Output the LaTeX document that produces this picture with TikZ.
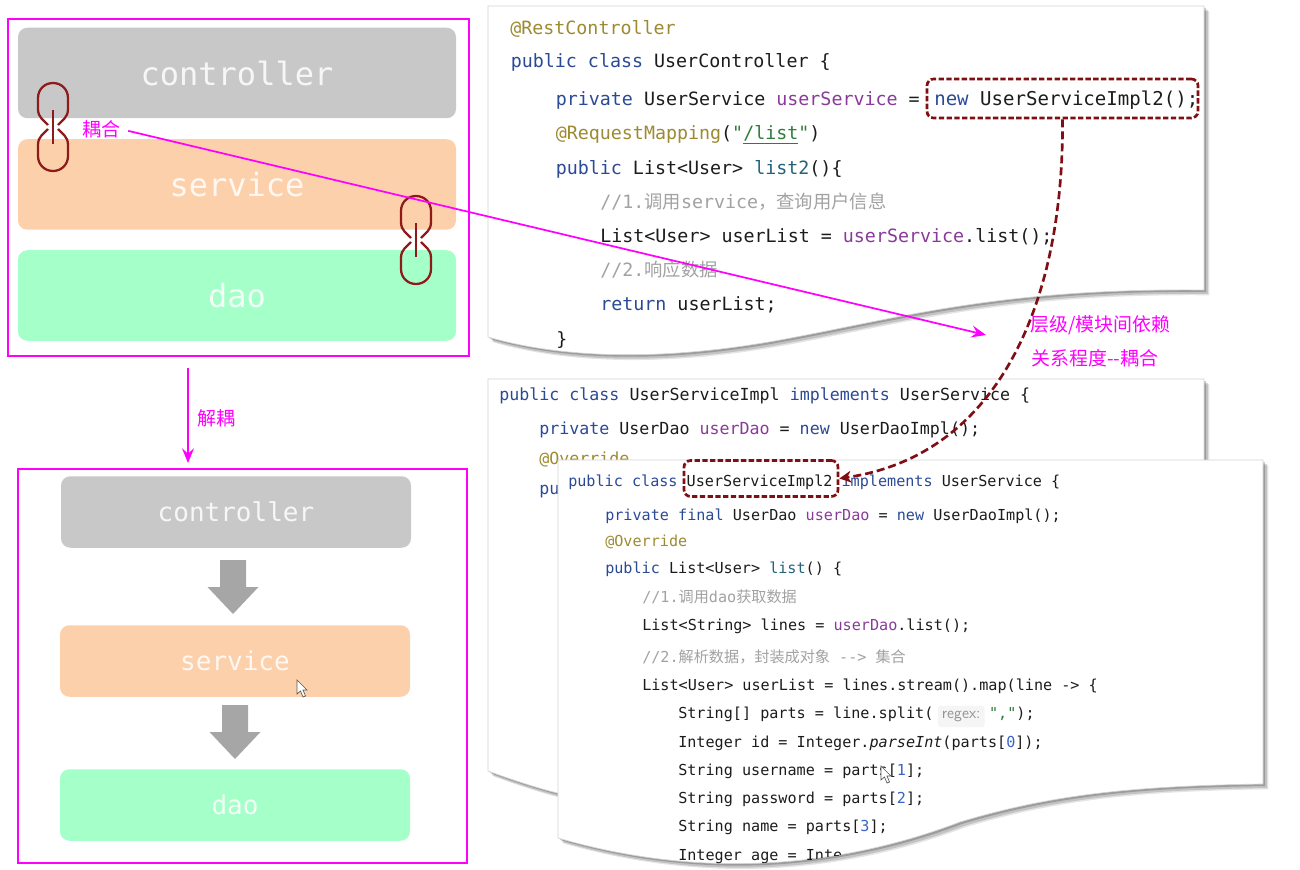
\documentclass[tikz,border=0pt]{standalone}
\usepackage{fontspec}
\usetikzlibrary{arrows.meta,positioning,shadows}
\newfontfamily\codefont{DejaVu Sans Mono}
\newfontfamily\cjk{Noto Sans CJK SC}
\definecolor{ctlgray}{HTML}{C8C8C8}
\definecolor{svcpeach}{HTML}{FCD0AA}
\definecolor{daogreen}{HTML}{A4FFC9}
\definecolor{blockgray}{HTML}{A6A6A6}
\definecolor{linkred}{HTML}{8E1A1A}
\definecolor{depred}{HTML}{7F0F14}
\definecolor{notemag}{HTML}{FF00FF}
\definecolor{kwcol}{HTML}{2B4A96}
\definecolor{fldcol}{HTML}{8A3A9A}
\definecolor{mthcol}{HTML}{22637A}
\definecolor{anncol}{HTML}{9E8A30}
\definecolor{strcol}{HTML}{2F7D3A}
\definecolor{numcol}{HTML}{3A62C8}
\definecolor{cmtcol}{HTML}{A2A2A2}
\definecolor{txtcol}{HTML}{1C1C1C}
\newcommand{\px}{0.75pt}
\newcommand{\kwd}[1]{\textcolor{kwcol}{#1}}
\newcommand{\fld}[1]{\textcolor{fldcol}{#1}}
\newcommand{\mth}[1]{\textcolor{mthcol}{#1}}
\newcommand{\anno}[1]{\textcolor{anncol}{#1}}
\newcommand{\strg}[1]{\textcolor{strcol}{#1}}
\newcommand{\numb}[1]{\textcolor{numcol}{#1}}
\newcommand{\cmt}[1]{\textcolor{cmtcol}{#1}}
\newcommand{\pageA}{(488,6) -- (1204,6) -- (1204,290) .. controls (1000,288) and (900,318) .. (780,340) .. controls (660,362) and (560,358) .. (488,337) -- cycle}
\newcommand{\pageB}{(488,379) -- (1204,379) -- (1204,700) .. controls (1000,700) and (800,800) .. (650,805) .. controls (590,805) and (540,790) .. (488,771) -- cycle}
\newcommand{\pageC}{(558,460) -- (1263,460) -- (1263,784) .. controls (1130,786) and (1050,795) .. (960,822) .. controls (860,860) and (720,885) .. (558,838) -- cycle}
\begin{document}
\begin{tikzpicture}[
    x=0.75pt, y=-0.75pt,
    panel/.style={draw=notemag, line width=1.2pt, inner sep=0pt},
    layer/.style={rounded corners=7pt, inner sep=0pt, text=white, text opacity=0.85},
    layerbig/.style={layer, minimum width=438*\px, minimum height=90.5*\px,
      font=\codefont\fontsize{24}{28}\selectfont},
    layersmall/.style={layer, minimum width=350*\px, minimum height=71.5*\px,
      font=\codefont\fontsize{19.5}{24}\selectfont},
    paper/.style={fill=white, draw=gray!35, line width=0.5pt,
      general shadow={shadow xshift=4pt, shadow yshift=-4pt, fill=black, opacity=0.10},
      general shadow={shadow xshift=3pt, shadow yshift=-3pt, fill=black, opacity=0.15},
      general shadow={shadow xshift=1.5pt, shadow yshift=-1.5pt, fill=black, opacity=0.2}},
    codeA/.style={anchor=base west, inner sep=0pt, text=txtcol,
      font=\codefont\fontsize{13.74}{16}\selectfont},
    codeB/.style={anchor=base west, inner sep=0pt, text=txtcol,
      font=\codefont\fontsize{12.48}{15}\selectfont},
    codeC/.style={anchor=base west, inner sep=0pt, text=txtcol,
      font=\codefont\fontsize{11.35}{14}\selectfont},
    note/.style={text=notemag, inner sep=0pt, font=\cjk\fontsize{14.2}{17}\selectfont},
    notearrow/.style={draw=notemag, line width=1.3pt,
      -{Stealth[length=11pt, width=9pt, inset=4pt]}},
    depbox/.style={draw=depred, line width=2pt, dash pattern=on 4pt off 1.8pt,
      rounded corners=5pt, inner sep=0pt},
    deparrow/.style={draw=depred, line width=2pt, dash pattern=on 6pt off 3pt,
      -{Stealth[length=9pt, width=9pt]}},
    chainline/.style={draw=linkred, line width=1.7pt}]
  \useasboundingbox (0,0) rectangle (1300,870);
  % left panels
  \node[panel, minimum width=461*\px, minimum height=337*\px] (panelTop) at (238.5,187.5) {};
  \node[layerbig, fill=ctlgray]  (ctlTop) at (237,73)    {controller};
  \node[layerbig, fill=svcpeach] (svcTop) at (237,184.5) {service};
  \node[layerbig, fill=daogreen] (daoTop) at (237,295.5) {dao};
  \node[panel, minimum width=449*\px, minimum height=394*\px] (panelLow) at (242.5,666) {};
  \node[layersmall, fill=ctlgray]  (ctlLow) at (236,512) {controller};
  \node[layersmall, fill=svcpeach] (svcLow) at (235,661) {service};
  \node[layersmall, fill=daogreen] (daoLow) at (235,805) {dao};
  % block arrows
  \foreach \cx/\cy in {233/560, 235/705}
    \fill[blockgray, shift={(\cx,\cy)}]
      (-13,0) -- (13,0) -- (13,27) -- (25.5,27) -- (0,54) -- (-25.5,27) -- (-13,27) -- cycle;
  % chain links
  \foreach \cx/\cy in {53/127, 416/240} {
    \begin{scope}[shift={(\cx,\cy)}]
      \draw[chainline] (-5,-2) .. controls (-9,-7) and (-15,-9) .. (-15,-18) -- (-15,-29)
        .. controls (-15,-38) and (-8,-44) .. (0,-44)
        .. controls (8,-44) and (15,-38) .. (15,-29) -- (15,-18)
        .. controls (15,-9) and (9,-7) .. (5,-2);
      \draw[chainline] (-5,2) .. controls (-9,7) and (-15,9) .. (-15,18) -- (-15,29)
        .. controls (-15,38) and (-8,44) .. (0,44)
        .. controls (8,44) and (15,38) .. (15,29) -- (15,18)
        .. controls (15,9) and (9,7) .. (5,2);
      \draw[chainline, line width=2.2pt] (0,-17) -- (0,17);
    \end{scope}
  }
  % first page
  \path[paper] \pageA;
  \node[codeA] (ctlAnno)  at (510,34.5)  {\anno{@RestController}};
  \node[codeA] (ctlClass) at (510.5,68)  {\kwd{public class} UserController \{};
  \node[codeA] (ctlField) at (555.5,105.5) {\kwd{private} UserService \fld{userService} =};
  \node[codeA, font=\codefont\fontsize{14.3}{16}\selectfont] (ctlNew) at (934,105.5) {\kwd{new} UserServiceImpl2();};
  \node[codeA] (ctlMap)   at (555.5,140) {\anno{@RequestMapping}(\strg{"\underline{/list}"})};
  \node[codeA] (ctlHead)  at (555.5,174.5) {\kwd{public} List<User> \mth{list2}()\{};
  \node[codeA] (ctlCmtA)  at (600,208.5) {\cmt{//1.{\cjk 调用}service{\cjk ，查询用户信息}}};
  \node[codeA] (ctlList)  at (600,242.5) {List<User> userList = \fld{userService}.list();};
  \node[codeA] (ctlCmtB)  at (600,276.5) {\cmt{//2.{\cjk 响应数据}}};
  \node[codeA] (ctlRet)   at (600,310.5) {\kwd{return} userList;};
  \node[codeA] (ctlEnd)   at (556,345) {\}};
  % second page
  \path[paper] \pageB;
  \node[codeB] (implClass) at (499,400) {\kwd{public class} UserServiceImpl \kwd{implements} UserService \{};
  \node[codeB] (implField) at (539,434) {\kwd{private} UserDao \fld{userDao} = \kwd{new} UserDaoImpl();};
  \node[codeB] (implAnno)  at (539,464) {\anno{@Override}};
  \node[codeB] (implHead)  at (539,494) {\kwd{pu}};
  % third page
  \path[paper] \pageC;
  \node[codeC] (nextClass) at (568,486) {\kwd{public class} UserServiceImpl2 \kwd{implements} UserService \{};
  \node[codeC] (nextField) at (605,520.5) {\kwd{private final} UserDao \fld{userDao} = \kwd{new} UserDaoImpl();};
  \node[codeC] (nextAnno)  at (605,546.5) {\anno{@Override}};
  \node[codeC] (nextHead)  at (605,573.5) {\kwd{public} List<User> \mth{list}() \{};
  \node[codeC] (nextCmtA)  at (642,602.5) {\cmt{//1.{\cjk 调用}dao{\cjk 获取数据}}};
  \node[codeC] (nextLines) at (642,630.5) {List<String> lines = \fld{userDao}.list();};
  \node[codeC] (nextCmtB)  at (642,662.5) {\cmt{//2.{\cjk 解析数据，封装成对象} --> {\cjk 集合}}};
  \node[codeC] (nextMap)   at (642,690.5) {List<User> userList = lines.stream().map(line -> \{};
  \node[codeC] (nextSplit) at (678,718.5) {String[] parts = line.split(};
  \node[base right=3pt of nextSplit, fill=gray!8, rounded corners=2pt, inner xsep=3pt, inner ysep=4pt,
    text=gray!85, font=\sffamily\fontsize{12}{14}\selectfont] (nextHint) {regex:};
  \node[codeC, base right=3pt of nextHint] (nextRest) {\strg{","});};
  \node[codeC] (nextId)    at (678,747.5) {Integer id = Integer.{\itshape parseInt}(parts[\numb{0}]);};
  \node[codeC] (nextUser)  at (678,775.5) {String username = parts[\numb{1}];};
  \node[codeC] (nextPass)  at (678,803.5) {String password = parts[\numb{2}];};
  \node[codeC] (nextName)  at (678,831.5) {String name = parts[\numb{3}];};
  \begin{scope}
    \clip \pageC;
    \node[codeC] (nextAge) at (678,860.5) {Integer age = Inte};
  \end{scope}
  % mouse pointers
  \foreach \cx/\cy in {297/680, 881/766}
    \draw[gray!70!black, fill=white, line width=0.5pt, shift={(\cx,\cy)}]
      (0,0) -- (0,14) -- (3.5,11) -- (6,17) -- (8.5,16) -- (6,10) -- (10,10) -- cycle;
  % dependency
  \node[depbox, minimum width=271*\px, minimum height=39*\px] (srcBox) at (1062.5,98.5) {};
  \node[depbox, minimum width=154*\px, minimum height=36*\px] (dstBox) at (761,478.5) {};
  \draw[deparrow] (srcBox.south) .. controls (1064,300) and (1000,455) .. (dstBox.east);
  % notes
  \node[note, anchor=west] (couple)   at (82,129)   {耦合};
  \node[note, anchor=west] (levelA)   at (1030,325) {层级/模块间依赖};
  \node[note, anchor=west] (levelB)   at (1031,358) {关系程度--耦合};
  \node[note, anchor=west] (decouple) at (197,418)  {解耦};
  \coordinate (coupleEnd) at (986,335);
  \coordinate (splitStart) at (188,368);
  \coordinate (splitEnd) at (188,463);
  \draw[notearrow, shorten <=6pt] (couple.east) -- (coupleEnd);
  \draw[notearrow] (splitStart) -- (splitEnd);
\end{tikzpicture}
\end{document}
